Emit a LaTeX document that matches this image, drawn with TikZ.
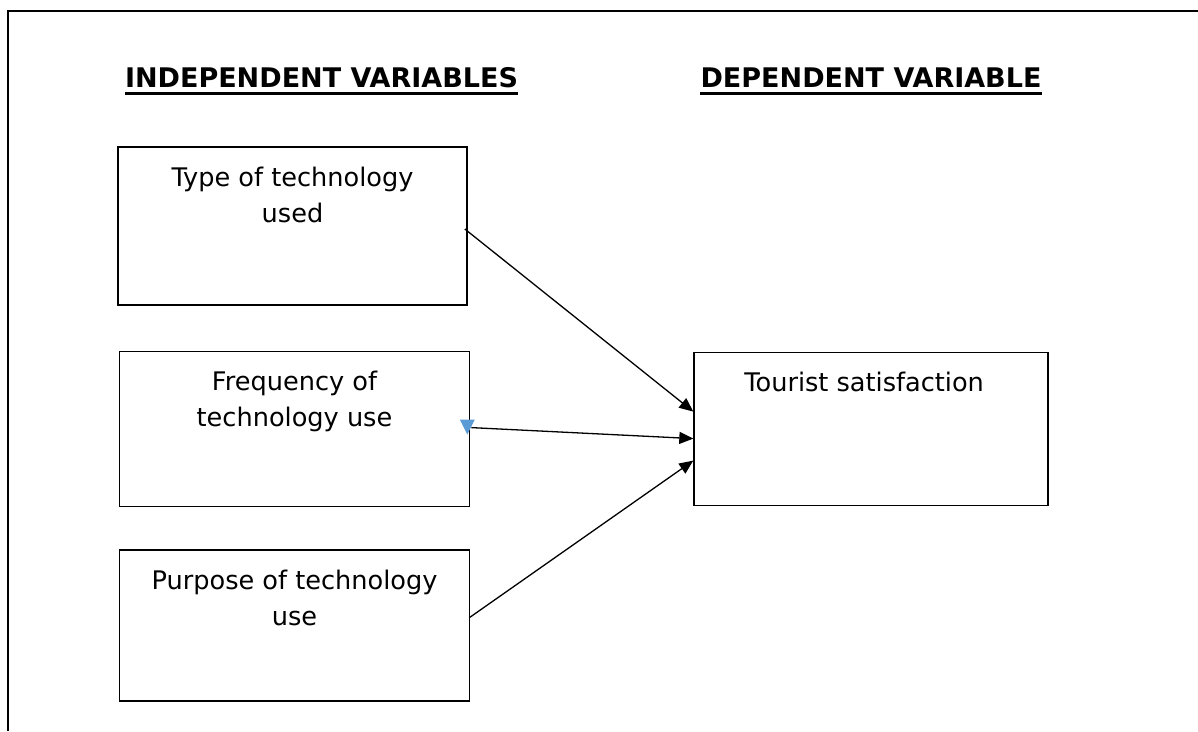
\documentclass[tikz,border=0pt]{standalone}
\usepackage{fontspec}
\setmainfont{DejaVu Sans}
\usepackage{xcolor}
\usepackage{tikz}
\usetikzlibrary{arrows.meta,positioning,calc}
\definecolor{MarkBlue}{HTML}{5B9BD5}

\begin{document}
\begin{tikzpicture}[x=1pt,y=-1pt,
  every node/.style={align=center},
  hdr/.style={font=\bfseries\fontsize{27}{30}\selectfont,inner sep=0pt,text depth=6pt,anchor=base,
    append after command={(\tikzlastnode.south west) edge[line width=2.6pt] (\tikzlastnode.south east)}},
  var/.style={draw,line width=1.6pt,minimum width=350pt,minimum height=155pt,inner sep=0pt},
  lbl/.style={font=\fontsize{25.6}{36}\selectfont,inner sep=0pt,anchor=north},
  arr/.style={-{Triangle[length=14pt,width=12pt]},line width=1.3pt}
]
\useasboundingbox (0,0) rectangle (1198,731);
% frame
\draw[line width=2pt] (1198,11) -- (7.5,11) -- (7.5,731);
% headings
\node[hdr] (indep) at (321.5,87) {INDEPENDENT VARIABLES};
\node[hdr] (dep) at (871,87) {DEPENDENT VARIABLE};
% boxes
\node[var,minimum width=349pt,minimum height=158pt] (type) at (292.5,226) {};
\node[var,below=45pt of type,xshift=2pt] (freq) {};
\node[var,below=42pt of freq,minimum height=151pt] (purp) {};
\node[var,right=223pt of freq,minimum width=354pt,minimum height=153pt] (tour) {};
\node[lbl] (typetxt) at ($(type.north)+(0,20.5)$) {Type of technology\\used};
\node[lbl] (freqtxt) at ($(freq.north)+(0,20.5)$) {Frequency of\\technology use};
\node[lbl] (purptxt) at ($(purp.north)+(0,20.5)$) {Purpose of technology\\use};
\node[lbl] (tourtxt) at ($(tour.north)+(-7,20.5)$) {Tourist satisfaction};
% arrows
\draw[arr] ($(type.east)+(-3,3)$) -- ($(tour.west)+(0,-17.5)$);
\draw[arr] ($(freq.east)+(1,-1.5)$) -- ($(tour.west)+(0,9.5)$);
\draw[arr] ($(purp.east)+(-1,-8)$) -- ($(tour.west)+(0,31.5)$);
\fill[MarkBlue] ($(freq.east)+(-10.5,-9.5)$) -- ++(15,0) -- ++(-7.5,15) -- cycle;
\end{tikzpicture}
\end{document}
